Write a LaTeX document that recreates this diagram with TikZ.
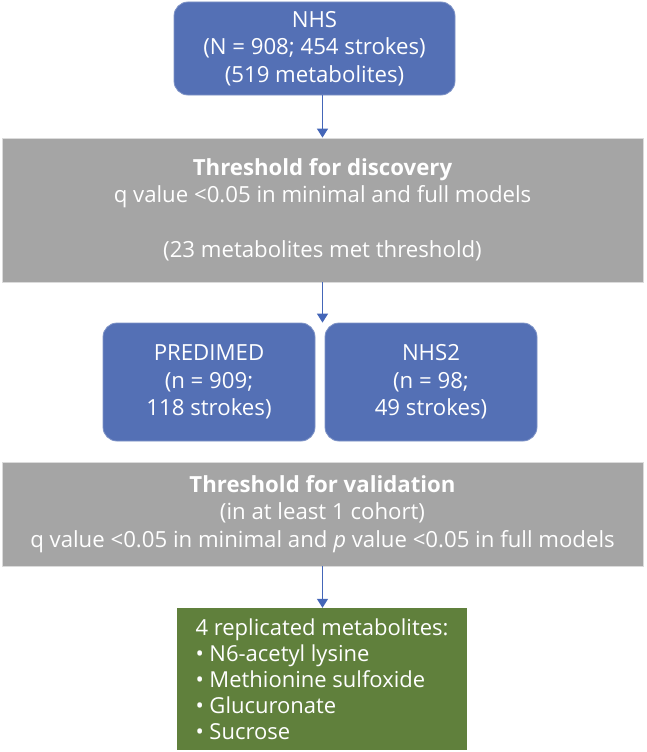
\documentclass[tikz,border=0pt]{standalone}
\usepackage{fontspec}
\setmainfont{Open Sans}
\usetikzlibrary{arrows.meta}
\definecolor{boxblue}{RGB}{84,112,181}
\definecolor{boxgray}{RGB}{165,165,165}
\definecolor{boxgreen}{RGB}{96,128,60}
\definecolor{arrblue}{RGB}{68,102,184}
\begin{document}
\begin{tikzpicture}[x=1pt,y=-1pt,
  txt/.style={text=white,font=\fontsize{22.2}{27.5}\selectfont,align=center,inner sep=0pt},
  bluebox/.style={txt,fill=boxblue,draw=boxblue!75!white,line width=0.8pt,rounded corners=14pt},
  graybox/.style={txt,fill=boxgray,draw=boxgray!40!white,line width=0.8pt},
  greenbox/.style={txt,font=\fontsize{22}{26}\selectfont,fill=boxgreen,align=left,inner xsep=8pt,inner ysep=0pt},
  flow/.style={arrblue,line width=1.3pt,-{Triangle[width=11pt,length=9pt]}}]
\useasboundingbox (0,0) rectangle (646,752);
\fill[white] (0,0) rectangle (646,752);
\node[bluebox,minimum width=281pt,minimum height=93pt] (nhs) at (314.5,48.5)
  {NHS\\(N = 908; 454 strokes)\\(519 metabolites)};
\node[graybox,minimum width=641pt,minimum height=144pt] (disc) at (322.5,210)
  {\textbf{Threshold for discovery}\\q value <0.05 in minimal and full models\\[27.5pt](23 metabolites met threshold)};
\node[bluebox,minimum width=212pt,minimum height=118pt] (pred) at (209,382)
  {PREDIMED\\(n = 909;\\118 strokes)};
\node[bluebox,minimum width=212pt,minimum height=118pt] (nhstwo) at (431,382)
  {NHS2\\(n = 98;\\49 strokes)};
\node[graybox,minimum width=641pt,minimum height=104pt] (valid) at (322.5,514)
  {\textbf{Threshold for validation}\\(in at least 1 cohort)\\q value <0.05 in minimal and \textit{p} value <0.05 in full models};
\node[greenbox,minimum width=290pt,minimum height=142pt] (repl) at (322,679)
  {4 replicated metabolites:\\• N6-acetyl lysine\\• Methionine sulfoxide\\• Glucuronate\\• Sucrose};
\coordinate (gapin) at (disc.south |- pred.north);
\draw[flow] (nhs.south -| disc.north) -- (disc.north);
\draw[flow] (disc.south) -- (gapin);
\draw[flow] (valid.south) -- (valid.south |- repl.north);
\end{tikzpicture}
\end{document}
